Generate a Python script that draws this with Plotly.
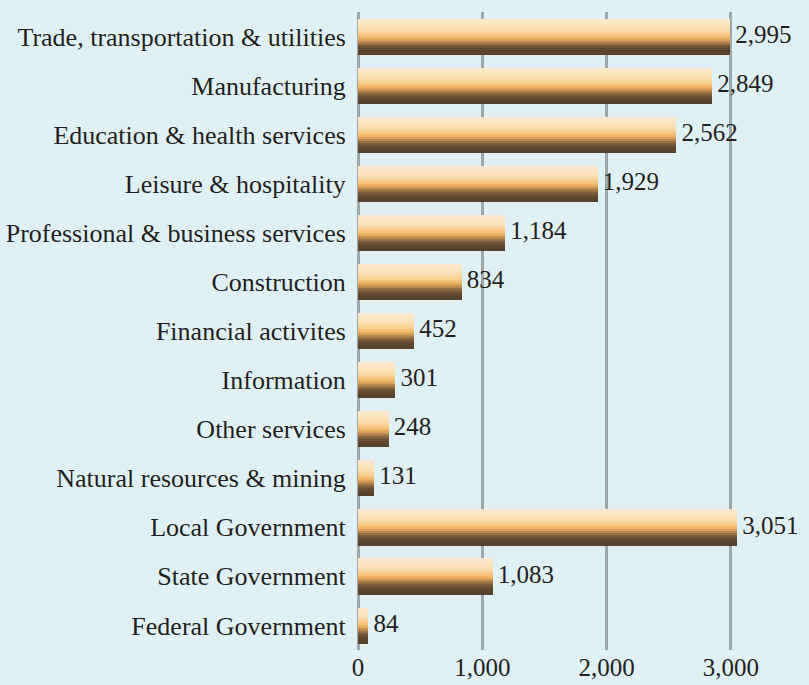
import plotly.graph_objects as go

categories = [
    'Trade, transportation & utilities',
    'Manufacturing',
    'Education & health services',
    'Leisure & hospitality',
    'Professional & business services',
    'Construction',
    'Financial activites',
    'Information',
    'Other services',
    'Natural resources & mining',
    'Local Government',
    'State Government',
    'Federal Government',
]
values = [2995, 2849, 2562, 1929, 1184, 834, 452, 301, 248, 131, 3051, 1083, 84]
value_labels = [f'\u2009{v:,}' for v in values]
x_ticks = [0, 1000, 2000, 3000]

# vertical gradient of the bars, top to bottom
strip_colors = [
    '#fbe8cc', '#fce8c8', '#fce6c3', '#fbe3bd', '#fbe0b5', '#fadbaa',
    '#f9d59e', '#f8cd8e', '#f5c27a', '#eeb466', '#d9a05a', '#b8874e',
    '#977045', '#7c5c3b', '#6a4f34', '#5f4830', '#59442e', '#56422d',
]

bar_h = 0.73
strip_w = bar_h / len(strip_colors)

fig = go.Figure()

for i, col in enumerate(strip_colors):
    fig.add_trace(go.Bar(
        x=values,
        y=categories,
        orientation='h',
        width=strip_w * 1.15,
        offset=-bar_h / 2 + i * strip_w,
        marker=dict(color=col, line=dict(width=0)),
        hoverinfo='skip',
        showlegend=False,
    ))

fig.add_trace(go.Scatter(
    x=values,
    y=categories,
    mode='text',
    text=value_labels,
    textposition='middle right',
    textfont=dict(family='Liberation Serif', size=25, color='#231f20'),
    cliponaxis=False,
    showlegend=False,
))

n = len(categories)
fig.update_layout(
    width=809,
    height=685,
    margin=dict(l=358, r=0, t=12, b=35),
    paper_bgcolor='#e0f1f6',
    plot_bgcolor='#e0f1f6',
    barmode='overlay',
    bargap=0,
    font=dict(family='Liberation Serif', size=25, color='#231f20'),
    xaxis=dict(
        range=[0, 3628],
        tickvals=x_ticks,
        tickformat=',',
        showgrid=True,
        gridcolor='#9ea8ab',
        gridwidth=2.5,
        zeroline=True,
        zerolinecolor='#9ea8ab',
        zerolinewidth=3,
        showline=False,
        automargin=False,
        ticks='',
    ),
    yaxis=dict(
        categoryorder='array',
        categoryarray=categories,
        range=[n - 0.5, -0.5],
        showgrid=False,
        zeroline=False,
        ticks='outside',
        ticklen=6,
        tickcolor='rgba(0,0,0,0)',
        tickfont=dict(size=26),
        automargin=False,
    ),
)

fig.write_html('out.html', config={'displayModeBar': False},
               post_script="document.body.style.margin='0';")
